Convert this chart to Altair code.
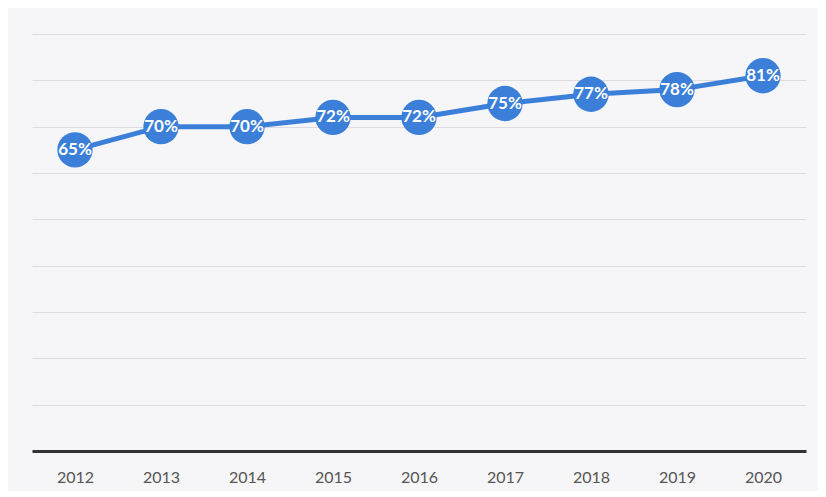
import altair as alt
import pandas as pd

years = ["2012", "2013", "2014", "2015", "2016", "2017", "2018", "2019", "2020"]
values = [0.65, 0.70, 0.70, 0.72, 0.72, 0.75, 0.77, 0.78, 0.81]
labels = ["65%", "70%", "70%", "72%", "72%", "75%", "77%", "78%", "81%"]
grid_values = [0.0, 0.1, 0.2, 0.3, 0.4, 0.5, 0.6, 0.7, 0.8, 0.9]

df = pd.DataFrame({"year": years, "value": values, "label": labels})

blue = "#3b7fd9"

x = alt.X("year:N", sort=years, title=None,
          scale=alt.Scale(paddingInner=0, paddingOuter=0),
          axis=alt.Axis(labelAngle=0, ticks=False, labelPadding=18,
                        labelFontSize=16, labelColor="#555555", labelFont="Lato",
                        domainColor="#333333", domainWidth=3, grid=False))
y = alt.Y("value:Q", title=None,
          scale=alt.Scale(domain=[0, 0.9], nice=False, zero=True),
          axis=alt.Axis(values=grid_values, labels=False, ticks=False, domain=False,
                        grid=True, gridColor="#dcdce0", gridWidth=1))

base = alt.Chart(df).encode(x=x, y=y)

line = base.mark_line(color=blue, strokeWidth=5)
points = base.mark_circle(color=blue, opacity=1, size=1250)
text = base.mark_text(color="white", fontSize=17, fontWeight="bold", font="Lato").encode(text="label:N")

chart = alt.layer(line, points, text).properties(
    width=774, height=417,
    autosize=alt.AutoSizeParams(type="none"),
    padding={"left": 24, "top": 26, "right": 12, "bottom": 40},
    background="#f6f6f8",
).configure_view(stroke=None)

chart.save("out.html", embed_options={"renderer": "svg", "actions": False})
